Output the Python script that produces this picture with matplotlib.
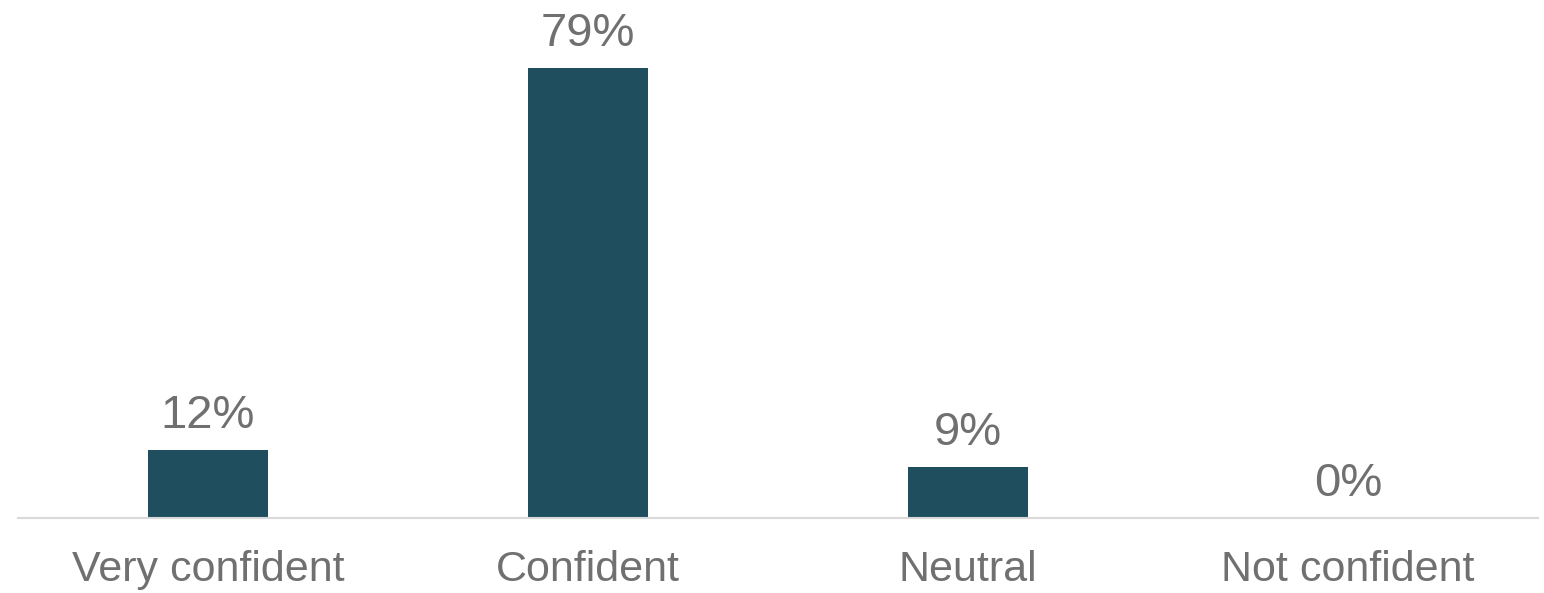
import matplotlib.pyplot as plt

categories = ['Very confident', 'Confident', 'Neutral', 'Not confident']
values = [12, 79, 9, 0]
labels = [f'{v}%' for v in values]

bar_color = '#1F4E5F'
text_color = '#707070'

plt.rcParams['font.family'] = ['Liberation Sans', 'DejaVu Sans']

fig = plt.figure(figsize=(15.44, 5.93), dpi=100)
ax = fig.add_axes([18 / 1544, 75 / 593, 1520 / 1544, 518 / 593])

x = range(len(categories))
bars = ax.bar(x, values, width=0.316, color=bar_color)

for xi, v, lab in zip(x, values, labels):
    ax.annotate(lab, (xi, v), xytext=(0, 15.8), textcoords='offset points',
                ha='center', va='baseline', fontsize=34, color=text_color)

ax.set_xlim(-0.5, len(categories) - 0.5)
ax.set_ylim(0, 90.9)
ax.set_xticks(list(x))
ax.set_xticklabels(categories, fontsize=31, color=text_color)
ax.tick_params(axis='x', length=0, pad=23)
ax.set_yticks([])

for side in ['top', 'right', 'left']:
    ax.spines[side].set_visible(False)
ax.spines['bottom'].set_color('#D9D9D9')
ax.spines['bottom'].set_linewidth(1.5)

fig.savefig('out.png', dpi=100)
